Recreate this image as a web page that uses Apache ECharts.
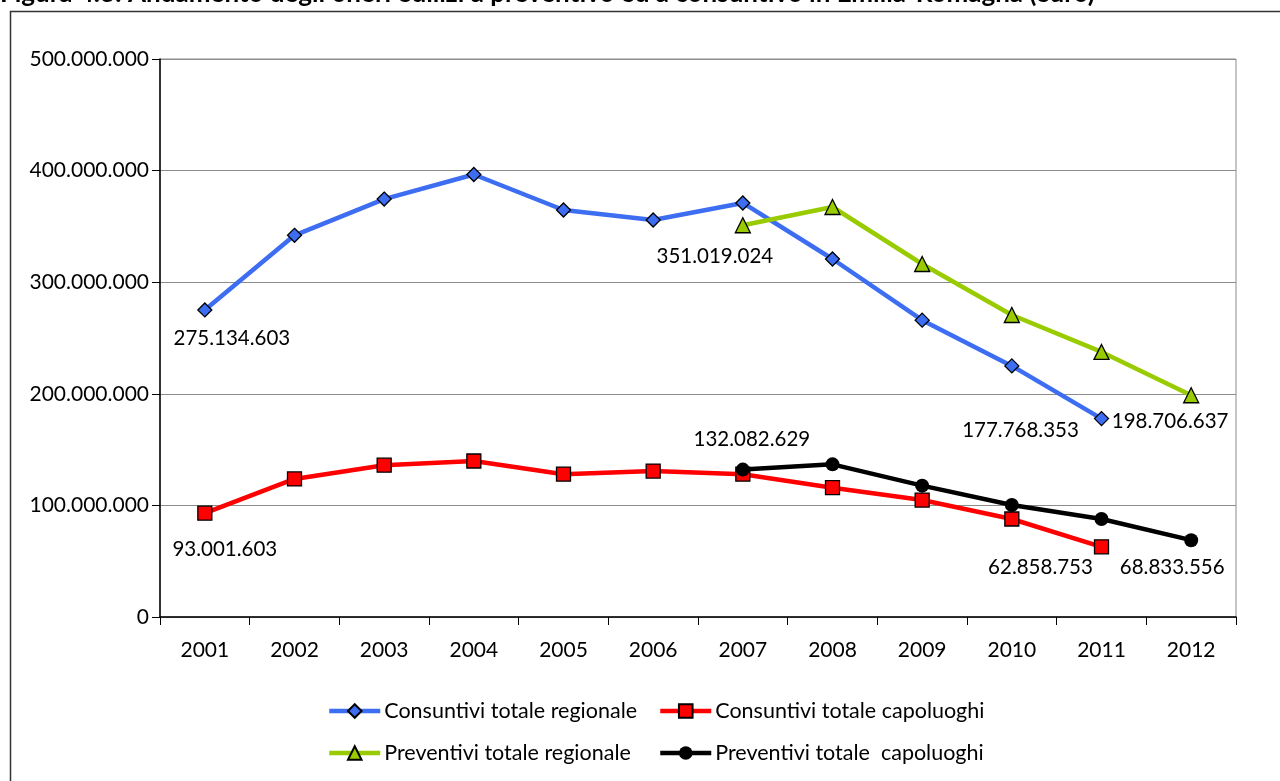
<!DOCTYPE html>
<html>
<head>
<meta charset="utf-8">
<script src="https://cdn.jsdelivr.net/npm/echarts@6/dist/echarts.min.js"></script>
<style>
html,body{margin:0;padding:0;background:#fff;}
#chart{width:1280px;height:781px;}
</style>
</head>
<body>
<div id="chart"></div>
<script>
const titleText = 'Figura 4.3: Andamento degli oneri edilizi a preventivo ed a consuntivo in Emilia-Romagna (euro)';
const years = ['2001','2002','2003','2004','2005','2006','2007','2008','2009','2010','2011','2012'];
const seriesNames = ['Consuntivi totale regionale','Consuntivi totale capoluoghi','Preventivi totale regionale','Preventivi totale  capoluoghi'];
const consRegionale = [275134603, 342000000, 374500000, 396500000, 364700000, 355700000, 371000000, 320800000, 266000000, 225000000, 177768353, null];
const consCapoluoghi = [93001603, 123700000, 136000000, 139800000, 128000000, 130800000, 128000000, 115900000, 104800000, 87800000, 62858753, null];
const prevRegionale = [null, null, null, null, null, null, 351019024, 367400000, 316300000, 270600000, 237500000, 198706637];
const prevCapoluoghi = [null, null, null, null, null, null, 132082629, 136800000, 117700000, 100400000, 87800000, 68833556];
const yTicks = [0, 100000000, 200000000, 300000000, 400000000, 500000000];

// which points carry a value label, and where the label sits relative to the point
const labelled = {
  0: {0: [27, 28], 10: [-81, 12]},
  1: {0: [20, 36], 10: [-61, 21]},
  2: {6: [-28, 31], 11: [-21, 26]},
  3: {6: [9, -30], 11: [-19, 27]}
};

const FONT = 'Lato';
function fmt(v){ return String(Math.round(v)).replace(/\B(?=(\d{3})+(?!\d))/g, '.'); }

function build(idx, arr){
  return arr.map((v, i) => {
    const off = labelled[idx][i];
    if (v == null || !off) return v;
    return {value: v, label: {show: true, position: 'inside', offset: off,
      formatter: p => fmt(p.value), color: '#000', fontSize: 20.5, fontFamily: FONT}};
  });
}

const colors = ['#3D6EF2', '#FF0000', '#99CC00', '#000000'];
const symbols = ['diamond', 'rect', 'triangle', 'circle'];
const sizes = [14, 14, 15, 14];
const datas = [consRegionale, consCapoluoghi, prevRegionale, prevCapoluoghi];

const chart = echarts.init(document.getElementById('chart'));
chart.setOption({
  animation: false,
  backgroundColor: '#fff',
  textStyle: {fontFamily: FONT},
  graphic: [
    {type: 'rect', shape: {x: 10.5, y: 11.5, width: 1300, height: 800},
     style: {fill: 'none', stroke: '#333', lineWidth: 1.5}, z: -10},
    {type: 'text', x: 0, y: 7, style: {text: titleText, font: 'bold 26px Lato', fill: '#000', verticalAlign: 'bottom'}}
  ],
  grid: {left: 160, right: 44, top: 59, bottom: 164, show: true, borderColor: '#8c8c8c', borderWidth: 1},
  legend: [0,1,2,3].map(i => ({
    data: [seriesNames[i]],
    left: i % 2 === 0 ? 327 : 658,
    top: i < 2 ? 700 : 742,
    padding: 0,
    itemWidth: 51, itemHeight: 17, itemGap: 4,
    lineStyle: {width: 4.5},
    textStyle: {fontSize: 21.5, color: '#000', fontFamily: FONT, padding: [0, 0, 0, -1]}
  })),
  xAxis: {
    type: 'category', data: years, boundaryGap: true,
    axisLine: {lineStyle: {color: '#000', width: 1.5}},
    axisTick: {show: true, length: 8, lineStyle: {color: '#000'}},
    axisLabel: {fontSize: 21, color: '#000', margin: 23, fontFamily: FONT},
    splitLine: {show: false}
  },
  yAxis: {
    type: 'value', min: 0, max: 500000000, interval: 100000000,
    axisLine: {show: true, lineStyle: {color: '#000', width: 1.5}},
    axisTick: {show: true, length: 8, lineStyle: {color: '#000'}},
    axisLabel: {fontSize: 21, color: '#000', margin: 11, fontFamily: FONT, formatter: v => fmt(v)},
    splitLine: {show: true, lineStyle: {color: '#8c8c8c', width: 1}}
  },
  series: datas.map((d, i) => ({
    name: seriesNames[i],
    type: 'line',
    data: build(i, d),
    connectNulls: false,
    symbol: symbols[i],
    symbolSize: sizes[i],
    showAllSymbol: true,
    lineStyle: {color: colors[i], width: 4.5},
    itemStyle: {color: colors[i], borderColor: '#000', borderWidth: i === 3 ? 0 : 1.3},
    z: 2 + i
  }))
});
</script>
</body>
</html>
